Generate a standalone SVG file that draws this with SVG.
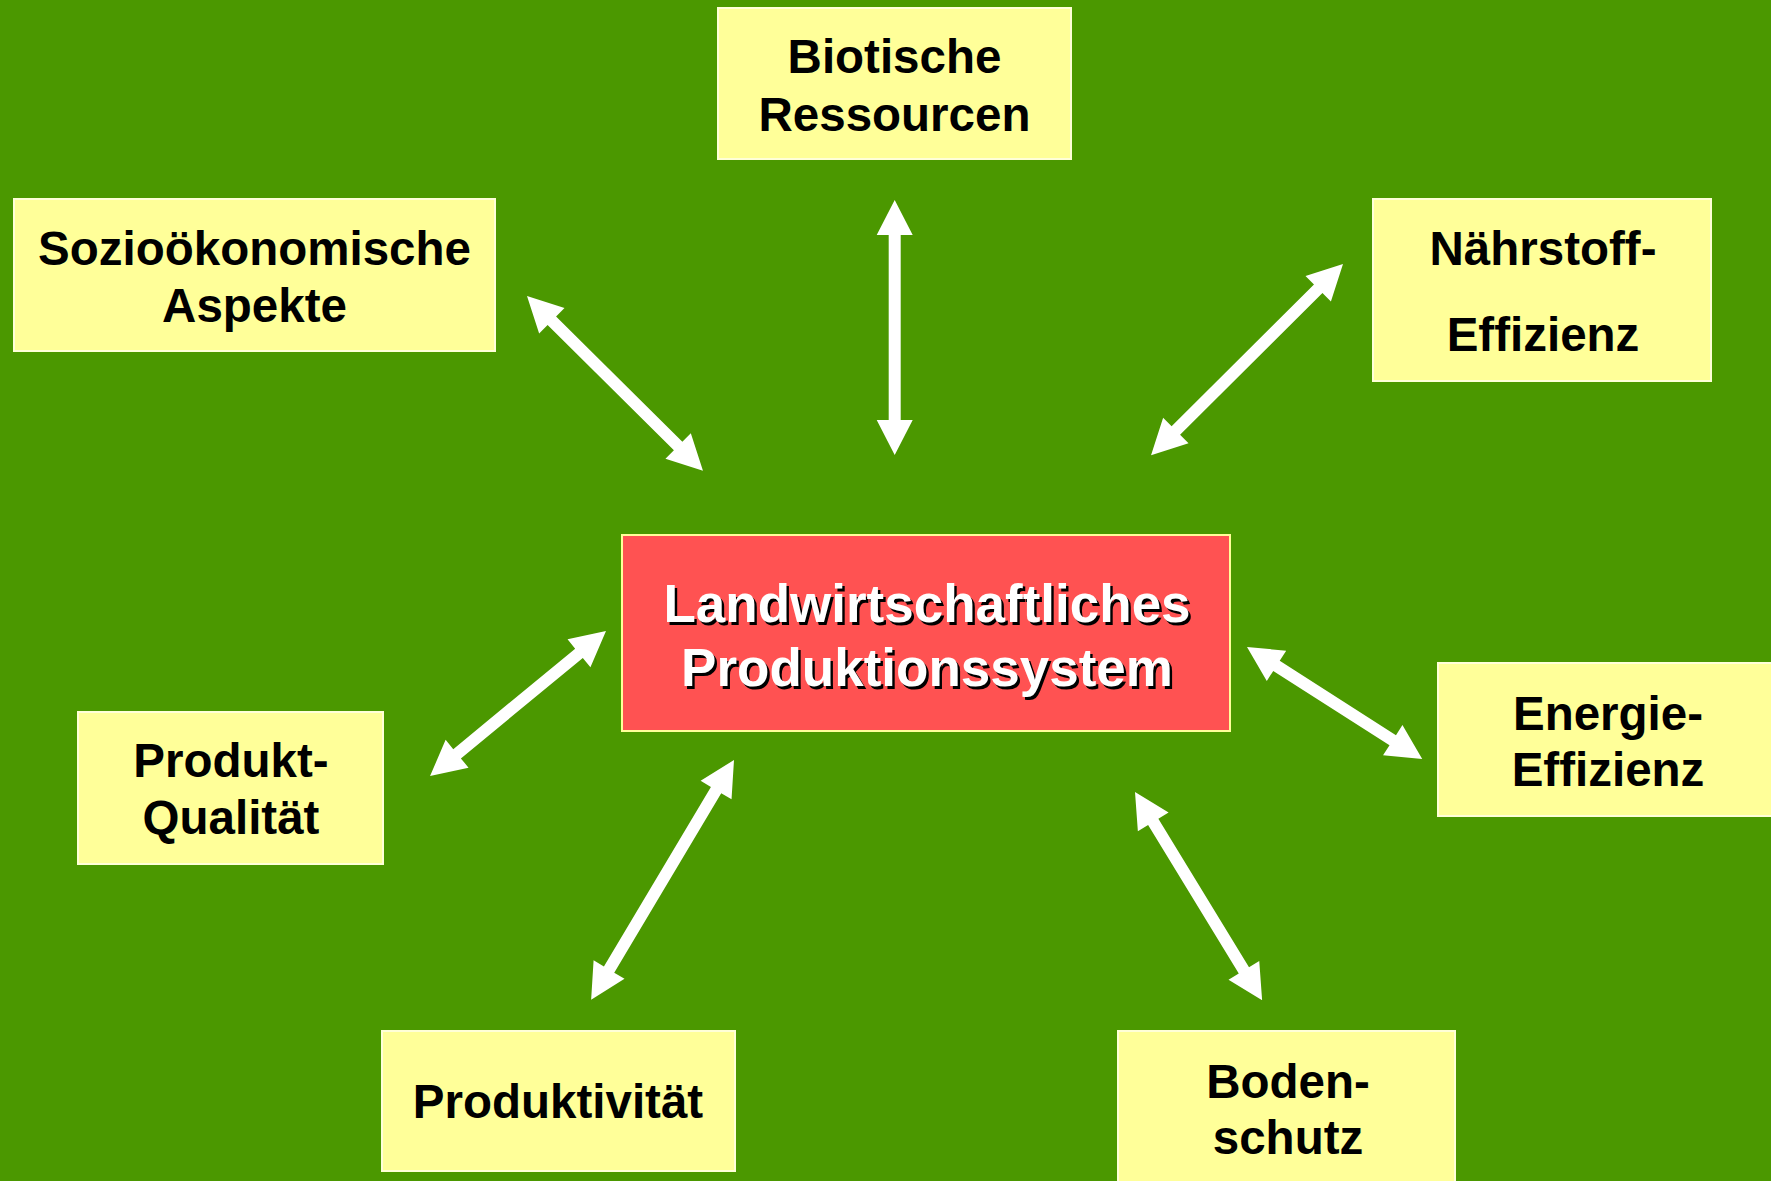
<svg xmlns="http://www.w3.org/2000/svg" width="1771" height="1181" viewBox="0 0 1771 1181">
  <style>
    .box { fill: #FFFF99; stroke: #FFFFD8; stroke-width: 2; }
    .core { fill: #FF5252; stroke: #FFFF99; stroke-width: 2; }
    .lbl { font-family: "Liberation Sans", Arial, sans-serif; font-weight: bold; font-size: 47.5px; fill: #000; text-anchor: middle; }
    .core-lbl { font-family: "Liberation Sans", Arial, sans-serif; font-weight: bold; font-size: 53px; text-anchor: middle; }
    .arrow { fill: #FFFFFF; }
  </style>

  <rect x="0" y="0" width="1771" height="1181" fill="#4B9800"/>

  <!-- double-headed arrows: each path runs tip to tip along +x, then is rotated into place -->
  <g id="connectors">
    <!-- vertical: Biotische Ressourcen -->
    <g transform="translate(894.7,200) rotate(90)"><path class="arrow" d="M0,0 L35,-18 L35,-6 L220,-6 L220,-18 L255,0 L220,18 L220,6 L35,6 L35,18 Z"/></g>
    <!-- Sozioökonomische Aspekte -->
    <g transform="translate(527,296) rotate(44.8)"><path class="arrow" d="M0,0 L35,-18 L35,-6 L213,-6 L213,-18 L248,0 L213,18 L213,6 L35,6 L35,18 Z"/></g>
    <!-- Nährstoff-Effizienz -->
    <g transform="translate(1343,264) rotate(135.1)"><path class="arrow" d="M0,0 L35,-18 L35,-6 L236,-6 L236,-18 L271,0 L236,18 L236,6 L35,6 L35,18 Z"/></g>
    <!-- Produkt-Qualität -->
    <g transform="translate(606,631) rotate(140.5)"><path class="arrow" d="M0,0 L35,-18 L35,-6 L193,-6 L193,-18 L228,0 L193,18 L193,6 L35,6 L35,18 Z"/></g>
    <!-- Produktivität -->
    <g transform="translate(734,760) rotate(120.8)"><path class="arrow" d="M0,0 L35,-18 L35,-6 L244,-6 L244,-18 L279,0 L244,18 L244,6 L35,6 L35,18 Z"/></g>
    <!-- Bodenschutz -->
    <g transform="translate(1135,792) rotate(58.6)"><path class="arrow" d="M0,0 L35,-18 L35,-6 L209,-6 L209,-18 L244,0 L209,18 L209,6 L35,6 L35,18 Z"/></g>
    <!-- Energie-Effizienz -->
    <g transform="translate(1247,647) rotate(32.6)"><path class="arrow" d="M0,0 L35,-18 L35,-6 L173,-6 L173,-18 L208,0 L173,18 L173,6 L35,6 L35,18 Z"/></g>
  </g>

  <g id="biotische">
    <rect class="box" x="718" y="8" width="353" height="151"/>
    <text class="lbl" x="894.5" y="73">Biotische</text>
    <text class="lbl" x="894.5" y="131">Ressourcen</text>
  </g>

  <g id="sozio">
    <rect class="box" x="14" y="199" width="481" height="152"/>
    <text class="lbl" x="254.5" y="265">Sozioökonomische</text>
    <text class="lbl" x="254.5" y="322">Aspekte</text>
  </g>

  <g id="naehrstoff">
    <rect class="box" x="1373" y="199" width="338" height="182"/>
    <text class="lbl" x="1543" y="265">Nährstoff-</text>
    <text class="lbl" x="1543" y="351">Effizienz</text>
  </g>

  <g id="energie">
    <rect class="box" x="1438" y="663" width="345" height="153"/>
    <text class="lbl" x="1608" y="730">Energie-</text>
    <text class="lbl" x="1608" y="786">Effizienz</text>
  </g>

  <g id="produkt">
    <rect class="box" x="78" y="712" width="305" height="152"/>
    <text class="lbl" x="231" y="777">Produkt-</text>
    <text class="lbl" x="231" y="834">Qualität</text>
  </g>

  <g id="produktivitaet">
    <rect class="box" x="382" y="1031" width="353" height="140"/>
    <text class="lbl" x="558" y="1118">Produktivität</text>
  </g>

  <g id="boden">
    <rect class="box" x="1118" y="1031" width="337" height="160"/>
    <text class="lbl" x="1288" y="1098">Boden-</text>
    <text class="lbl" x="1288" y="1154">schutz</text>
  </g>

  <g id="produktionssystem">
    <rect class="core" x="622" y="535" width="608" height="196"/>
    <!-- drop shadow under the white title -->
    <g class="core-lbl" fill="#000000" transform="translate(2.5,2.5)">
      <text x="927" y="622">Landwirtschaftliches</text>
      <text x="927" y="686">Produktionssystem</text>
    </g>
    <g class="core-lbl" fill="#FFFFFF">
      <text x="927" y="622">Landwirtschaftliches</text>
      <text x="927" y="686">Produktionssystem</text>
    </g>
  </g>
</svg>
